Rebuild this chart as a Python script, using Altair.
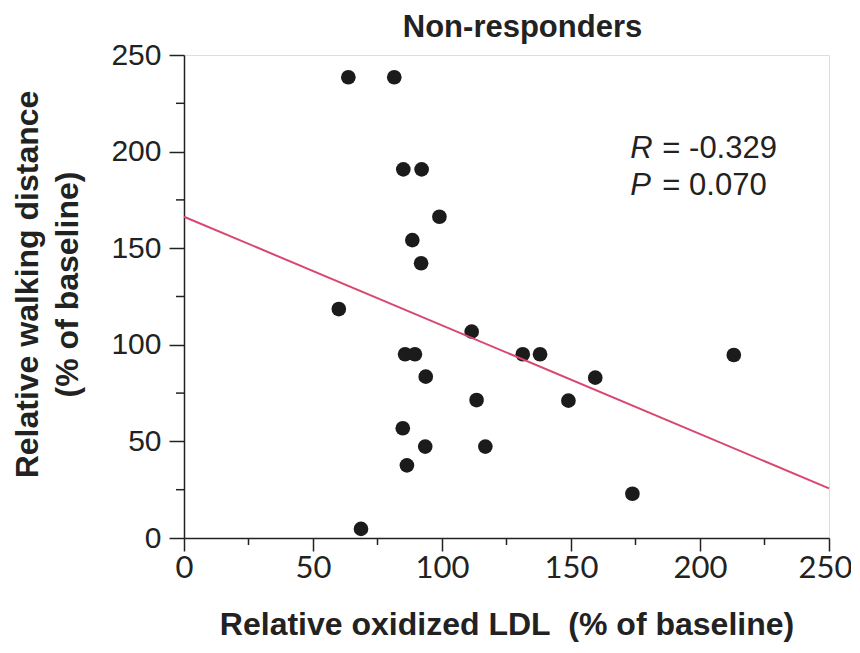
import altair as alt
import pandas as pd

# Scatter points
ox_ldl = [63.7, 81.5, 85.0, 92.1, 99.0, 88.5, 91.9, 60.0, 111.5, 85.7, 89.5, 93.7,
          113.4, 131.3, 138.0, 84.8, 93.5, 86.4, 116.8, 68.6, 149.0, 159.4, 173.8, 213.1]
walking = [238.5, 238.5, 190.8, 190.8, 166.3, 154.2, 142.2, 118.5, 106.8, 95.1, 95.1, 83.5,
           71.4, 95.1, 95.1, 56.8, 47.3, 37.6, 47.3, 4.7, 71.1, 83.0, 22.9, 94.7]

# Regression line end points
fit_x = [0, 250]
fit_y = [166.3, 25.7]

# Axis ticks
major_ticks = [0, 50, 100, 150, 200, 250]
minor_ticks = [25, 75, 125, 175, 225]

# Annotation
ann_x = [173, 173]
ann_y = [196.7, 177.5]
ann_letter = ["R", "P"]
ann_rest = ["= -0.329", "= 0.070"]

W, H = 645, 483

pts = pd.DataFrame({"x": ox_ldl, "y": walking})
fit = pd.DataFrame({"x": fit_x, "y": fit_y})
minor = pd.DataFrame({"v": minor_ticks})
ann = pd.DataFrame({"x": ann_x, "y": ann_y, "l": ann_letter, "r": ann_rest})

xscale = alt.Scale(domain=[0, 250], nice=False)
yscale = alt.Scale(domain=[0, 250], nice=False)

xaxis = alt.Axis(values=major_ticks, title="Relative oxidized LDL\u00a0 (% of baseline)",
                 grid=False, tickSize=13, tickColor="#222", tickWidth=1.5,
                 domainColor="#222", domainWidth=1.5,
                 labelFont="Lato", labelFontSize=31, labelColor="#222", labelPadding=2,
                 labelFlush=False,
                 labelOffset={"condition": {"test": "datum.value == 250", "value": -4}, "value": 0},
                 titleFont="Liberation Sans", titleFontWeight="bold", titleFontSize=32,
                 titleColor="#222", titlePadding=26)
yaxis = alt.Axis(values=major_ticks, title=["Relative walking distance", "(% of baseline)"],
                 grid=False, tickSize=15, tickColor="#222", tickWidth=1.5,
                 domainColor="#222", domainWidth=1.5,
                 labelFont="Liberation Sans", labelFontSize=30, labelColor="#222",
                 labelPadding=8, labelFlush=False,
                 titleFont="Liberation Sans", titleFontWeight="bold", titleFontSize=32,
                 titleColor="#222", titlePadding=26, titleLineHeight=40, titleY=229)

points = alt.Chart(pts).mark_circle(size=215, color="#1b1b1b", opacity=1).encode(
    x=alt.X("x:Q", scale=xscale, axis=xaxis),
    y=alt.Y("y:Q", scale=yscale, axis=yaxis),
)

line = alt.Chart(fit).mark_line(color="#d9466f", strokeWidth=2).encode(
    x=alt.X("x:Q", scale=xscale),
    y=alt.Y("y:Q", scale=yscale),
)

ytick_minor = alt.Chart(minor).mark_rule(color="#222", strokeWidth=1.5).encode(
    y=alt.Y("v:Q", scale=yscale),
    x=alt.value(-8), x2=alt.value(0),
)
xtick_minor = alt.Chart(minor).mark_rule(color="#222", strokeWidth=1.5).encode(
    x=alt.X("v:Q", scale=xscale),
    y=alt.value(H), y2=alt.value(H + 7),
)

ann_l = alt.Chart(ann).mark_text(font="Liberation Sans", fontSize=31, fontStyle="italic",
                                 align="left", baseline="alphabetic", color="#222").encode(
    x=alt.X("x:Q", scale=xscale), y=alt.Y("y:Q", scale=yscale), text="l:N")
ann_r = alt.Chart(ann).mark_text(font="Liberation Sans", fontSize=31, dx=32,
                                 align="left", baseline="alphabetic", color="#222").encode(
    x=alt.X("x:Q", scale=xscale), y=alt.Y("y:Q", scale=yscale), text="r:N")

chart = alt.layer(points, line, ytick_minor, xtick_minor, ann_l, ann_r).properties(
    width=W, height=H,
    title=alt.Title("Non-responders", font="Liberation Sans", fontSize=31,
                    fontWeight="bold", color="#222", anchor="middle", dx=16, offset=-4),
    autosize=alt.AutoSizeParams(type="none"),
    padding={"left": 176, "top": 47, "right": 22, "bottom": 106},
).configure_view(stroke="#222", strokeWidth=1.5).configure(background="white")

chart.save("out.html", embed_options={"renderer": "svg", "actions": False})
